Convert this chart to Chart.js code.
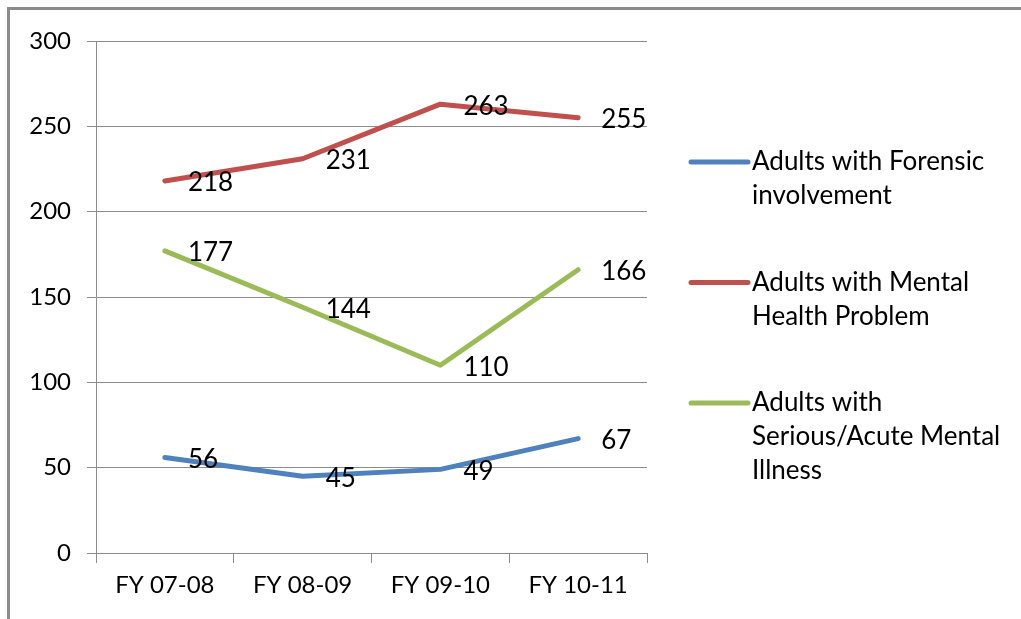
<!DOCTYPE html>
<html>
<head>
<meta charset="utf-8">
<script src="https://cdn.jsdelivr.net/npm/chart.js@4.4.0/dist/chart.umd.min.js"></script>
<style>
  html, body { margin: 0; background: #fff; overflow: hidden; }
  #wrap { position: relative; width: 1021px; height: 619px; overflow: hidden; }
  #frame { position: absolute; left: 7px; top: 7px; width: 1030px; height: 640px; border: 3px solid #8c8c8c; box-sizing: border-box; }
  canvas { position: absolute; left: 0; top: 0; }
</style>
</head>
<body>
<div id="wrap">
  <div id="frame"></div>
  <canvas id="chart" width="1021" height="619"></canvas>
</div>
<script>
// categories and series
var years = ['FY 07-08', 'FY 08-09', 'FY 09-10', 'FY 10-11'];
var forensic = [56, 45, 49, 67];
var mentalHealth = [218, 231, 263, 255];
var seriousIllness = [177, 144, 110, 166];
var yTicks = [0, 50, 100, 150, 200, 250, 300];

// legend text, wrapped as in the original
var legendLines = [
  ['Adults with Forensic', 'involvement'],
  ['Adults with Mental', 'Health Problem'],
  ['Adults with', 'Serious/Acute Mental', 'Illness']
];

var FONT = 'Lato, "Open Sans", sans-serif';

// values next to each point
var valueLabels = {
  id: 'valueLabels',
  afterDatasetsDraw: function (chart) {
    var c = chart.ctx;
    c.save();
    c.font = '26px ' + FONT;
    c.fillStyle = '#000';
    c.textBaseline = 'middle';
    c.textAlign = 'left';
    chart.data.datasets.forEach(function (ds, i) {
      chart.getDatasetMeta(i).data.forEach(function (pt, j) {
        c.fillText(ds.data[j], pt.x + 23, pt.y + 2);
      });
    });
    c.restore();
  }
};

// legend on the right
var sideLegend = {
  id: 'sideLegend',
  afterDraw: function (chart) {
    var c = chart.ctx;
    c.save();
    c.font = '26px ' + FONT;
    c.fillStyle = '#000';
    c.textBaseline = 'middle';
    chart.data.datasets.forEach(function (ds, i) {
      var y = 162 + i * 120.5;
      c.strokeStyle = ds.borderColor;
      c.lineWidth = 5;
      c.lineCap = 'round';
      c.beginPath();
      c.moveTo(691, y);
      c.lineTo(748, y);
      c.stroke();
      legendLines[i].forEach(function (t, k) {
        c.fillText(t, 752, y + k * 34);
      });
    });
    c.restore();
  }
};

var ctx = document.getElementById('chart');
new Chart(ctx, {
  type: 'line',
  data: {
    labels: years,
    datasets: [
      { label: legendLines[0].join(' '), data: forensic, borderColor: '#4F81BD' },
      { label: legendLines[1].join(' '), data: mentalHealth, borderColor: '#C0504D' },
      { label: legendLines[2].join(' '), data: seriousIllness, borderColor: '#9BBB59' }
    ]
  },
  options: {
    responsive: false,
    animation: false,
    events: [],
    layout: { padding: { left: 0, top: 41, right: 374, bottom: 0 } },
    elements: {
      line: { borderWidth: 5, tension: 0, borderCapStyle: 'round', borderJoinStyle: 'round' },
      point: { radius: 0 }
    },
    plugins: {
      legend: { display: false },
      tooltip: { enabled: false }
    },
    scales: {
      x: {
        offset: true,
        afterFit: function (s) { s.height = 66; },
        grid: { offset: true, drawOnChartArea: false, drawTicks: true, tickLength: 10, color: '#8c8c8c', lineWidth: 1 },
        border: { display: true, color: '#8c8c8c', width: 1 },
        ticks: { color: '#000', font: { family: FONT, size: 24 }, padding: 8, maxRotation: 0 }
      },
      y: {
        min: 0,
        max: 300,
        afterFit: function (s) { s.width = 96; },
        afterBuildTicks: function (s) { s.ticks = yTicks.map(function (v) { return { value: v }; }); },
        grid: { drawTicks: true, tickLength: 9, color: '#8c8c8c', lineWidth: 1 },
        border: { display: true, color: '#8c8c8c', width: 1 },
        ticks: { color: '#000', font: { family: FONT, size: 24 }, padding: 16 }
      }
    }
  },
  plugins: [valueLabels, sideLegend]
});
</script>
</body>
</html>
